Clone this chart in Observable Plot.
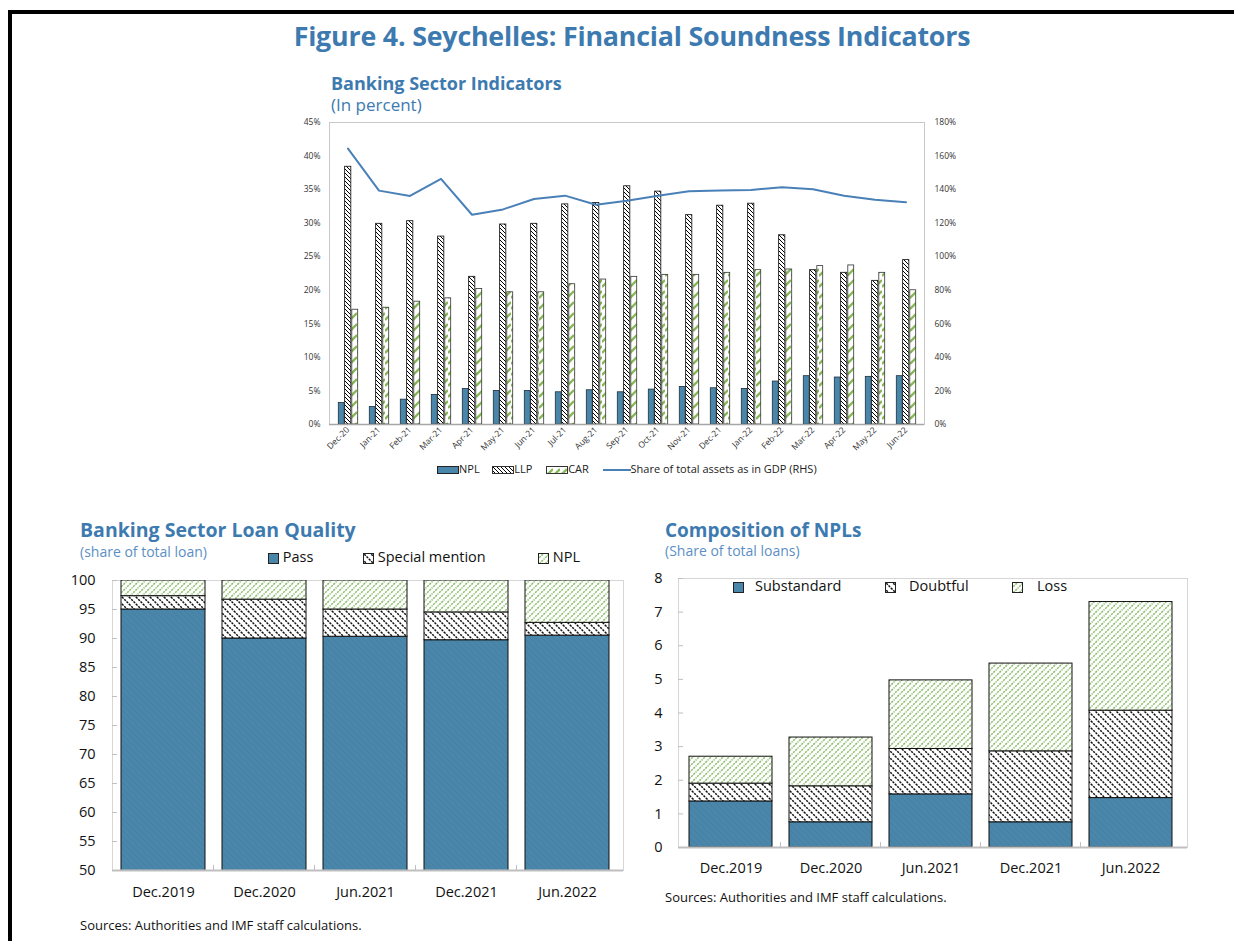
<!DOCTYPE html>
<html>
<head>
<meta charset="utf-8">
<script src="https://cdn.jsdelivr.net/npm/d3@7"></script>
<script src="https://cdn.jsdelivr.net/npm/@observablehq/plot@0.6"></script>
<style>
  html, body { margin: 0; padding: 0; background: #fff; }
  #page { position: relative; width: 1234px; height: 941px; overflow: hidden; font-family: "Open Sans", "Noto Sans", sans-serif; }
  .abs { position: absolute; white-space: nowrap; }
  .blue { color: #3d7ab0; }
  .border { position: absolute; left: 8px; top: 10px; width: 1300px; height: 1000px; border-top: 4px solid #000; border-left: 4px solid #000; }
  .sw { display: inline-block; vertical-align: middle; }
</style>
</head>
<body>
<div id="page">
  <div class="border"></div>
  <svg width="0" height="0" style="position:absolute">
    <defs>
      <pattern id="pLLP" patternUnits="userSpaceOnUse" width="4" height="4">
        <rect width="4" height="4" fill="#fff"/>
        <path d="M-1,-1L5,5M-1,3L1,5M3,-1L5,1" stroke="#000" stroke-width="1.0"/>
      </pattern>
      <pattern id="pCAR" patternUnits="userSpaceOnUse" width="7" height="11">
        <rect width="7" height="11" fill="#fff"/>
        <path d="M0,10L7,3" stroke="#86b955" stroke-width="2.4"/>
      </pattern>
      <pattern id="pPass" patternUnits="userSpaceOnUse" width="6" height="6">
        <rect width="6" height="6" fill="#4a86aa"/>
        <path d="M-1,-1L7,7" stroke="#4580a3" stroke-width="1"/>
      </pattern>
      <pattern id="pSM" patternUnits="userSpaceOnUse" width="7" height="7">
        <rect width="7" height="7" fill="#fff"/>
        <path d="M-1,-1L8,8M-1,6L1,8M6,-1L8,1" stroke="#111" stroke-width="1.5" stroke-dasharray="2.2 1"/>
      </pattern>
      <pattern id="pNPL" patternUnits="userSpaceOnUse" width="6" height="6">
        <rect width="6" height="6" fill="#fff"/>
        <path d="M-1,7L7,-1M-1,1L1,-1M5,7L7,5" stroke="#8fbf6e" stroke-width="1.5" stroke-dasharray="2.2 0.9"/>
      </pattern>
    </defs>
  </svg>

  <div class="abs blue" style="left:0;width:1264px;text-align:center;top:17px;font-size:26.8px;font-weight:700;letter-spacing:-0.2px;">Figure 4. Seychelles: Financial Soundness Indicators</div>

  <div class="abs blue" style="left:331px;top:71px;font-size:18px;font-weight:700;">Banking Sector Indicators</div>
  <div class="abs blue" style="left:331px;top:93px;font-size:17px;">(In percent)</div>
  <div id="c1" class="abs" style="left:280px;top:112px;"></div>
  <div class="abs" style="left:437px;top:461px;font-size:11px;color:#222;">
    <svg class="sw" width="22" height="8"><rect x="0.5" y="0.5" width="21" height="7" fill="#4a86aa" stroke="#222"/></svg>NPL
    <span style="display:inline-block;width:7px"></span>
    <svg class="sw" width="22" height="8"><rect x="0.5" y="0.5" width="21" height="7" fill="url(#pLLP)" stroke="#333"/></svg>LLP
    <span style="display:inline-block;width:8px"></span>
    <svg class="sw" width="22" height="8"><rect x="0.5" y="0.5" width="21" height="7" fill="url(#pCAR)" stroke="#333"/></svg>CAR
    <span style="display:inline-block;width:8px"></span>
    <svg class="sw" width="28" height="8"><line x1="0" y1="4" x2="28" y2="4" stroke="#4a80b8" stroke-width="2"/></svg>Share of total assets as in GDP (RHS)
  </div>

  <div class="abs blue" style="left:80px;top:516px;font-size:19.5px;font-weight:700;">Banking Sector Loan Quality</div>
  <div class="abs blue" style="left:80px;top:542px;font-size:14px;color:#5b8fc4;">(share of total loan)</div>
  <div class="abs" style="left:268px;top:547px;font-size:14.5px;color:#111;">
    <svg class="sw" width="11" height="11"><rect x="0.5" y="0.5" width="10" height="10" fill="#4a86aa" stroke="#222"/></svg> Pass</div>
  <div class="abs" style="left:363px;top:547px;font-size:14.5px;color:#111;">
    <svg class="sw" width="11" height="11"><rect x="0.5" y="0.5" width="10" height="10" fill="url(#pSM)" stroke="#222"/></svg> Special mention</div>
  <div class="abs" style="left:538px;top:547px;font-size:14.5px;color:#111;">
    <svg class="sw" width="11" height="11"><rect x="0.5" y="0.5" width="10" height="10" fill="url(#pNPL)" stroke="#222"/></svg> NPL</div>
  <div id="c2" class="abs" style="left:60px;top:570px;"></div>
  <div class="abs" style="left:80px;top:916px;font-size:13px;color:#111;">Sources: Authorities and IMF staff calculations.</div>

  <div class="abs blue" style="left:665px;top:517px;font-size:19px;font-weight:700;">Composition of NPLs</div>
  <div class="abs blue" style="left:665px;top:541px;font-size:14px;color:#5b8fc4;">(Share of total loans)</div>
  <div id="c3" class="abs" style="left:630px;top:568px;"></div>
  <div class="abs" style="left:733px;top:576px;font-size:14.5px;color:#111;">
    <svg class="sw" width="11" height="11"><rect x="0.5" y="0.5" width="10" height="10" fill="#4a86aa" stroke="#222"/></svg><span style="margin-left:11px">Substandard</span></div>
  <div class="abs" style="left:885px;top:576px;font-size:14.5px;color:#111;">
    <svg class="sw" width="11" height="11"><rect x="0.5" y="0.5" width="10" height="10" fill="url(#pSM)" stroke="#222"/></svg><span style="margin-left:13px">Doubtful</span></div>
  <div class="abs" style="left:1012px;top:576px;font-size:14.5px;color:#111;">
    <svg class="sw" width="11" height="11"><rect x="0.5" y="0.5" width="10" height="10" fill="url(#pNPL)" stroke="#222"/></svg><span style="margin-left:14px">Loss</span></div>
  <div class="abs" style="left:665px;top:888px;font-size:13px;color:#111;">Sources: Authorities and IMF staff calculations.</div>
</div>

<script>
// ---------- Banking sector indicators (monthly) ----------
const months = ["Dec-20","Jan-21","Feb-21","Mar-21","Apr-21","May-21","Jun-21","Jul-21","Aug-21","Sep-21","Oct-21","Nov-21","Dec-21","Jan-22","Feb-22","Mar-22","Apr-22","May-22","Jun-22"];
const nplRatio = [3.2,2.6,3.7,4.4,5.3,5.0,5.0,4.8,5.1,4.8,5.2,5.6,5.4,5.3,6.4,7.2,7.0,7.1,7.2];
const llpRatio = [38.4,29.9,30.3,28.0,22.0,29.8,29.9,32.8,33.0,35.5,34.7,31.2,32.6,32.9,28.2,23.0,22.6,21.4,24.5];
const carRatio = [17.1,17.4,18.3,18.8,20.2,19.7,19.7,20.9,21.6,22.0,22.3,22.3,22.6,23.0,23.1,23.6,23.7,22.6,20.0];
const assetsToGDP = [164.4,139.4,136.2,146.4,125.0,128.2,134.4,136.4,131.0,133.3,136.4,139.0,139.4,139.8,141.4,140.2,136.4,134.0,132.5];
const leftTicks = [0,5,10,15,20,25,30,35,40,45];
const rightTicks = [0,20,40,60,80,100,120,140,160,180];

// ---------- Loan quality ----------
const periods = ["Dec.2019","Dec.2020","Jun.2021","Dec.2021","Jun.2022"];
const passShare = [95.0,90.0,90.3,89.7,90.5];
const specialMentionShare = [2.3,6.7,4.7,4.8,2.2];
const nplShare = [2.7,3.3,5.0,5.5,7.3];
const qualityTicks = [50,55,60,65,70,75,80,85,90,95,100];

// ---------- Composition of NPLs ----------
const substandard = [1.37,0.75,1.58,0.75,1.47];
const doubtful = [0.53,1.07,1.35,2.11,2.60];
const loss = [0.80,1.45,2.04,2.61,3.23];
const npTicks = [0,1,2,3,4,5,6,7,8];

const FONT = '"Open Sans", "Noto Sans", sans-serif';

// ----- chart 1 -----
const monthly = months.map((m, i) => ({month: m, npl: nplRatio[i], llp: llpRatio[i], car: carRatio[i], assets: assetsToGDP[i]}));
const c1 = Plot.plot({
  width: 700, height: 345,
  marginLeft: 49, marginRight: 56, marginTop: 10, marginBottom: 33,
  style: {fontFamily: FONT, fontSize: "8.5px", color: "#333", background: "transparent", overflow: "visible"},
  x: {domain: months, padding: 0, label: null},
  y: {domain: [0, 45], label: null},
  marks: [
    Plot.frame({stroke: "#c9c9c9"}),
    Plot.axisY({ticks: leftTicks, tickFormat: d => d + "%", tickSize: 0, tickPadding: 9, label: null}),
    Plot.axisY({anchor: "right", ticks: rightTicks.map(v => v / 4), tickFormat: d => Math.round(d * 4) + "%", tickSize: 0, tickPadding: 10, label: null}),
    Plot.axisX({tickRotate: -45, tickSize: 0, tickPadding: 4, label: null}),
    Plot.barY(monthly, {x: "month", y: "npl", fill: "#4a86aa", stroke: "#1f2f3a", strokeWidth: 0.8, insetLeft: 6.3, insetRight: 18.8}),
    Plot.barY(monthly, {x: "month", y: "llp", fill: "url(#pLLP)", stroke: "#222", strokeWidth: 0.9, insetLeft: 12.6, insetRight: 12.2}),
    Plot.barY(monthly, {x: "month", y: "car", fill: "url(#pCAR)", stroke: "#333", strokeWidth: 0.8, insetLeft: 19.8, insetRight: 5.3}),
    Plot.lineY(monthly, {x: "month", y: d => d.assets / 4, stroke: "#4a80b8", strokeWidth: 2}),
    Plot.ruleY([0], {stroke: "#a6a6a6", strokeWidth: 1.5})
  ]
});
document.getElementById("c1").append(c1);

// ----- shared helper: small upward ticks at band boundaries -----
function boundaryTicks(domain) {
  return (index, scales, values, dims) => {
    const g = document.createElementNS("http://www.w3.org/2000/svg", "g");
    const x = scales.x;
    const step = x.step();
    const y0 = dims.height - dims.marginBottom;
    domain.slice(1).forEach(d => {
      const xx = x(d) - (step - x.bandwidth()) / 2;
      const l = document.createElementNS("http://www.w3.org/2000/svg", "line");
      l.setAttribute("x1", xx); l.setAttribute("x2", xx);
      l.setAttribute("y1", y0); l.setAttribute("y2", y0 - 5);
      l.setAttribute("stroke", "#bfbfbf");
      g.append(l);
    });
    return g;
  };
}

// ----- chart 2 -----
const qualitySeries = ["Pass", "Special mention", "NPL"];
const quality = periods.flatMap((p, i) => [
  {period: p, series: "Pass", value: passShare[i]},
  {period: p, series: "Special mention", value: specialMentionShare[i]},
  {period: p, series: "NPL", value: nplShare[i]}
]);
const c2 = Plot.plot({
  width: 580, height: 340,
  marginLeft: 52, marginRight: 17, marginTop: 10, marginBottom: 40,
  style: {fontFamily: FONT, fontSize: "14.5px", color: "#111", background: "transparent", overflow: "visible"},
  x: {domain: periods, range: [51.4, 557.6], paddingInner: 0.17, paddingOuter: 0.085, label: null},
  y: {domain: [50, 100], label: null},
  color: {domain: qualitySeries, range: ["url(#pPass)", "url(#pSM)", "url(#pNPL)"]},
  marks: [
    Plot.frame({stroke: "#d6d6d6"}),
    Plot.barY(quality, Plot.stackY({x: "period", y: "value", fill: "series", stroke: "#111", strokeWidth: 1, clip: true})),
    Plot.axisY({ticks: qualityTicks, tickSize: 0, tickPadding: 17, label: null}),
    Plot.axisY({ticks: qualityTicks, tickSize: -5, tickFormat: () => "", stroke: "#bfbfbf", label: null}),
    Plot.axisX({tickSize: 0, tickPadding: 16, label: null}),
    Plot.ruleY([50], {stroke: "#bfbfbf", strokeWidth: 2}),
    boundaryTicks(periods)
  ]
});
document.getElementById("c2").append(c2);

// ----- chart 3 -----
const npSeries = ["Substandard", "Doubtful", "Loss"];
const composition = periods.flatMap((p, i) => [
  {period: p, series: "Substandard", value: substandard[i]},
  {period: p, series: "Doubtful", value: doubtful[i]},
  {period: p, series: "Loss", value: loss[i]}
]);
const c3 = Plot.plot({
  width: 570, height: 320,
  marginLeft: 48, marginRight: 13, marginTop: 10, marginBottom: 41,
  style: {fontFamily: FONT, fontSize: "14.5px", color: "#111", background: "transparent", overflow: "visible"},
  x: {domain: periods, range: [49.25, 551.75], paddingInner: 0.174, paddingOuter: 0.087, label: null},
  y: {domain: [0, 8], label: null},
  color: {domain: npSeries, range: ["url(#pPass)", "url(#pSM)", "url(#pNPL)"]},
  marks: [
    Plot.frame({stroke: "#d6d6d6"}),
    Plot.barY(composition, Plot.stackY({x: "period", y: "value", fill: "series", stroke: "#111", strokeWidth: 1})),
    Plot.axisY({ticks: npTicks, tickSize: 0, tickPadding: 16, label: null}),
    Plot.axisY({ticks: npTicks, tickSize: -5, tickFormat: () => "", stroke: "#bfbfbf", label: null}),
    Plot.axisX({tickSize: 0, tickPadding: 15, label: null}),
    Plot.ruleY([0], {stroke: "#bfbfbf", strokeWidth: 2}),
    boundaryTicks(periods)
  ]
});
document.getElementById("c3").append(c3);
</script>
</body>
</html>
